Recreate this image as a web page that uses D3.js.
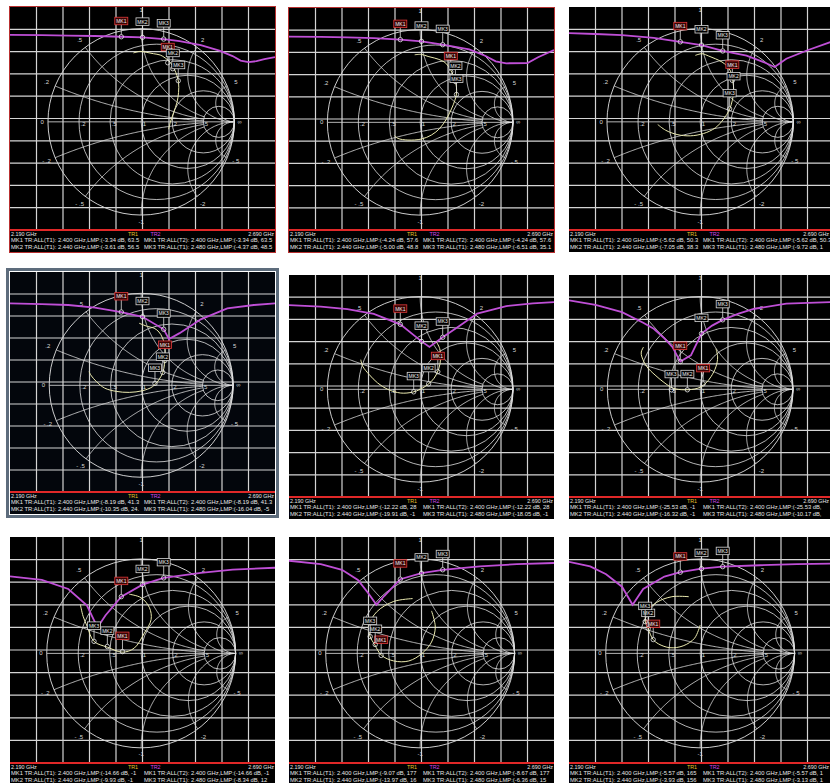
<!DOCTYPE html>
<meta charset="utf-8">
<script src="https://d3js.org/d3.v7.min.js"></script>
<style>
  body { margin: 0; background: #fff; }
  text { font-family: "Liberation Sans", Arial, sans-serif; }
</style>
<body>
<script>
// sweep, GHz
var F0 = 2.19, F1 = 2.69;
var mkFreq = [2.40, 2.44, 2.48];
var mkName = ["MK1", "MK2", "MK3"];
var startLabel = "2.190 GHz", stopLabel = "2.690 GHz";

// smith grid values
var rCircles = [0.2, 0.5, 1, 2, 5];
var rLabels = [".2", ".5", "1", "2", "5"];
var xArcs = [0.2, 0.5, 1, 2, 5];
var xLabelsPos = [".2", ".5", "1", "2", "5"];
var xLabelsNeg = ["- .2", "- .5", "-1", "-2", "- 5"];

// TR2 log mag traces [GHz, dB]
var mag1 = [[2.19,-2.5],[2.25,-2.6],[2.30,-2.8],[2.35,-3.0],[2.40,-3.34],[2.44,-3.61],[2.48,-4.37],[2.51,-5.3],[2.55,-7.1],[2.585,-9.6],[2.61,-12.0],[2.625,-14.0],[2.64,-14.7],[2.655,-14.3],[2.67,-13.4],[2.69,-12.5]];
var mag2 = [[2.19,-2.9],[2.25,-3.0],[2.30,-3.2],[2.35,-3.6],[2.40,-4.24],[2.44,-5.0],[2.48,-6.51],[2.53,-8.6],[2.56,-11.5],[2.58,-14.0],[2.60,-14.9],[2.64,-14.8],[2.66,-12.2],[2.69,-8.9]];
var mag3 = [[2.19,-1.7],[2.24,-2.1],[2.29,-2.6],[2.35,-3.8],[2.40,-5.62],[2.44,-7.05],[2.48,-9.72],[2.525,-11.8],[2.56,-15.0],[2.578,-16.9],[2.60,-13.2],[2.64,-9.4],[2.69,-5.2]];
var mag4 = [[2.19,-4.3],[2.25,-4.6],[2.30,-5.0],[2.35,-6.2],[2.40,-8.19],[2.44,-10.35],[2.48,-16.04],[2.49,-20.5],[2.51,-17.8],[2.55,-11.5],[2.60,-6.5],[2.65,-5.0],[2.69,-4.3]];
var mag5 = [[2.19,-3.6],[2.25,-4.2],[2.30,-5.4],[2.35,-7.5],[2.40,-12.22],[2.44,-19.9],[2.455,-22.4],[2.48,-18.05],[2.51,-13.2],[2.545,-7.4],[2.60,-4.0],[2.65,-2.8],[2.69,-2.2]];
var mag6 = [[2.19,-1.4],[2.24,-3.5],[2.29,-6.7],[2.33,-11.5],[2.35,-14.2],[2.37,-18.5],[2.385,-22.4],[2.40,-29.0],[2.42,-26.2],[2.44,-16.4],[2.46,-12.8],[2.48,-10.2],[2.51,-7.4],[2.54,-5.2],[2.60,-2.9],[2.69,-2.2]];
var mag7 = [[2.19,-7.4],[2.25,-9.0],[2.30,-13.0],[2.335,-20.2],[2.355,-30.0],[2.37,-24.7],[2.40,-16.4],[2.44,-11.1],[2.48,-8.1],[2.55,-5.9],[2.61,-4.4],[2.69,-3.6]];
var mag8 = [[2.19,-0.5],[2.25,-2.0],[2.29,-4.5],[2.32,-9.0],[2.34,-15.0],[2.355,-20.0],[2.37,-16.0],[2.40,-8.67],[2.44,-6.0],[2.48,-4.5],[2.55,-3.0],[2.62,-2.0],[2.69,-1.5]];
var mag9 = [[2.19,-1.0],[2.23,-3.0],[2.26,-6.5],[2.29,-12.0],[2.31,-20.0],[2.33,-13.0],[2.37,-7.5],[2.40,-5.57],[2.44,-4.0],[2.48,-3.13],[2.55,-2.5],[2.62,-2.0],[2.69,-1.8]];

// TR1 smith traces [re, im]
var smith1 = [[-0.083,0.739],[-0.011,0.756],[0.061,0.745],[0.133,0.731],[0.204,0.717],[0.258,0.685],[0.312,0.638],[0.355,0.566],[0.384,0.495],[0.401,0.423],[0.401,0.315],[0.384,0.208],[0.348,0.100],[0.312,-0.008],[0.294,-0.079]];
var smith2 = [[-0.059,0.728],[0.013,0.732],[0.085,0.710],[0.157,0.692],[0.229,0.667],[0.283,0.631],[0.330,0.560],[0.373,0.470],[0.391,0.380],[0.391,0.306],[0.373,0.234],[0.337,0.144],[0.283,0.036],[0.211,-0.065],[0.121,-0.137],[0.013,-0.180],[-0.132,-0.191],[-0.240,-0.173],[-0.276,-0.144]];
var smith3 = [[-0.052,0.713],[0.020,0.731],[0.091,0.706],[0.163,0.677],[0.234,0.642],[0.287,0.599],[0.330,0.535],[0.350,0.440],[0.360,0.330],[0.345,0.232],[0.316,0.135],[0.251,0.030],[0.163,-0.064],[0.037,-0.125],[-0.105,-0.150],[-0.248,-0.136],[-0.372,-0.089],[-0.455,-0.029]];
var smith4 = [[-0.022,0.675],[0.068,0.640],[0.140,0.622],[0.194,0.579],[0.229,0.522],[0.254,0.443],[0.262,0.335],[0.254,0.228],[0.235,0.140],[0.190,0.056],[0.122,-0.016],[0.014,-0.059],[-0.129,-0.077],[-0.272,-0.066],[-0.398,-0.030],[-0.487,0.041],[-0.541,0.102],[-0.567,0.148]];
var smith5 = [[0.17,0.52],[0.21,0.44],[0.22,0.33],[0.20,0.22],[0.15,0.12],[0.08,0.05],[0.00,0.00],[-0.08,-0.03],[-0.21,-0.04],[-0.35,0.00],[-0.46,0.07],[-0.55,0.16],[-0.62,0.25],[-0.64,0.32]];
var smith6 = [[0.170,0.438],[0.188,0.349],[0.170,0.243],[0.117,0.137],[0.053,0.059],[-0.025,0.012],[-0.167,-0.005],[-0.291,0.012],[-0.379,0.066],[-0.486,0.154],[-0.574,0.243],[-0.628,0.349],[-0.635,0.402],[-0.610,0.456]];
var smith7 = [[-0.126,0.626],[-0.002,0.590],[0.088,0.483],[0.105,0.358],[0.034,0.216],[-0.073,0.056],[-0.198,0.013],[-0.358,0.066],[-0.500,0.127],[-0.572,0.287],[-0.615,0.394],[-0.644,0.519]];
var smith8 = [[0.12,0.45],[0.16,0.28],[0.12,0.12],[0.02,0.00],[-0.12,-0.08],[-0.28,-0.08],[-0.41,-0.02],[-0.48,0.09],[-0.53,0.18],[-0.54,0.30],[-0.46,0.44],[-0.28,0.55],[-0.08,0.58]];
var smith9 = [[0.00,0.30],[-0.06,0.16],[-0.18,0.08],[-0.32,0.06],[-0.44,0.10],[-0.50,0.15],[-0.55,0.26],[-0.58,0.34],[-0.56,0.44],[-0.46,0.54],[-0.30,0.60],[-0.12,0.60]];

// TR1 marker positions on the smith trace [re, im] for MK1..MK3
var smk1 = [[0.285,0.634],[0.339,0.570],[0.398,0.441]];
var smk2 = [[0.330,0.545],[0.380,0.440],[0.391,0.300]];
var smk3 = [[0.345,0.445],[0.358,0.321],[0.316,0.139]];
var smk4 = [[0.258,0.270],[0.235,0.140],[0.150,0.020]];
var smk5 = [[0.190,0.190],[0.091,0.059],[-0.070,-0.027]];
var smk6 = [[0.032,0.059],[-0.138,-0.005],[-0.309,-0.005]];
var smk7 = [[-0.198,0.019],[-0.358,0.073],[-0.499,0.127]];
var smk8 = [[-0.413,-0.022],[-0.476,0.094],[-0.529,0.178]];
var smk9 = [[-0.497,0.146],[-0.550,0.262],[-0.582,0.336]];

// marker readouts
var read1 = ["MK1 TR:ALL(T1):  2.400 GHz,LMP:(-3.34 dB, 63.5", "MK1 TR:ALL(T2):  2.400 GHz,LMP:(-3.34 dB, 63.5",
             "MK2 TR:ALL(T1):  2.440 GHz,LMP:(-3.61 dB, 56.5", "MK3 TR:ALL(T1):  2.480 GHz,LMP:(-4.37 dB, 48.5"];
var read2 = ["MK1 TR:ALL(T1):  2.400 GHz,LMP:(-4.24 dB, 57.6", "MK1 TR:ALL(T2):  2.400 GHz,LMP:(-4.24 dB, 57.6",
             "MK2 TR:ALL(T1):  2.440 GHz,LMP:(-5.00 dB, 48.8", "MK3 TR:ALL(T1):  2.480 GHz,LMP:(-6.51 dB, 35.1"];
var read3 = ["MK1 TR:ALL(T1):  2.400 GHz,LMP:(-5.62 dB, 50.3", "MK1 TR:ALL(T2):  2.400 GHz,LMP:(-5.62 dB, 50.3",
             "MK2 TR:ALL(T1):  2.440 GHz,LMP:(-7.05 dB, 38.3", "MK3 TR:ALL(T1):  2.480 GHz,LMP:(-9.72 dB, 1"];
var read4 = ["MK1 TR:ALL(T1):  2.400 GHz,LMP:(-8.19 dB, 41.3", "MK1 TR:ALL(T2):  2.400 GHz,LMP:(-8.19 dB, 41.3",
             "MK2 TR:ALL(T1):  2.440 GHz,LMP:(-10.35 dB, 24.", "MK3 TR:ALL(T1):  2.480 GHz,LMP:(-16.04 dB, -5"];
var read5 = ["MK1 TR:ALL(T1):  2.400 GHz,LMP:(-12.22 dB, 28", "MK1 TR:ALL(T2):  2.400 GHz,LMP:(-12.22 dB, 28",
             "MK2 TR:ALL(T1):  2.440 GHz,LMP:(-19.91 dB, -1", "MK3 TR:ALL(T1):  2.480 GHz,LMP:(-18.05 dB, -1"];
var read6 = ["MK1 TR:ALL(T1):  2.400 GHz,LMP:(-25.53 dB, -1", "MK1 TR:ALL(T2):  2.400 GHz,LMP:(-25.53 dB,",
             "MK2 TR:ALL(T1):  2.440 GHz,LMP:(-16.32 dB, -1", "MK3 TR:ALL(T1):  2.480 GHz,LMP:(-10.17 dB,"];
var read7 = ["MK1 TR:ALL(T1):  2.400 GHz,LMP:(-14.66 dB, -1", "MK1 TR:ALL(T2):  2.400 GHz,LMP:(-14.66 dB, -1",
             "MK2 TR:ALL(T1):  2.440 GHz,LMP:(-9.93 dB, -1", "MK3 TR:ALL(T1):  2.480 GHz,LMP:(-8.34 dB, 12"];
var read8 = ["MK1 TR:ALL(T1):  2.400 GHz,LMP:(-9.07 dB, 177", "MK1 TR:ALL(T2):  2.400 GHz,LMP:(-8.67 dB, 177",
             "MK2 TR:ALL(T1):  2.440 GHz,LMP:(-13.97 dB, 16", "MK3 TR:ALL(T1):  2.480 GHz,LMP:(-6.36 dB, 15"];
var read9 = ["MK1 TR:ALL(T1):  2.400 GHz,LMP:(-5.57 dB, 165", "MK1 TR:ALL(T2):  2.400 GHz,LMP:(-5.57 dB, 1",
             "MK2 TR:ALL(T1):  2.440 GHz,LMP:(-3.93 dB, 156", "MK3 TR:ALL(T1):  2.480 GHz,LMP:(-3.13 dB, 1"];

var svg = d3.select("body").append("svg")
  .attr("width", 830).attr("height", 783);

// window frames: x, y = top left of black area, ph = plot height
var panels = [
  {x: 10,  y: 7,   ph: 223, bg: "#000",    frame: "#b83030", fw: 1, mag: mag1, smith: smith1, smk: smk1, read: read1},
  {x: 289, y: 8,   ph: 222, bg: "#000",    frame: "#b83030", fw: 1, mag: mag2, smith: smith2, smk: smk2, read: read2},
  {x: 569, y: 7,   ph: 223, bg: "#000",    frame: null,      fw: 0, mag: mag3, smith: smith3, smk: smk3, read: read3},
  {x: 10,  y: 272, ph: 220, bg: "#03060c", frame: "#5d6c7c", fw: 3, mag: mag4, smith: smith4, smk: smk4, read: read4},
  {x: 289, y: 275, ph: 222, bg: "#000",    frame: null,      fw: 0, mag: mag5, smith: smith5, smk: smk5, read: read5},
  {x: 569, y: 275, ph: 222, bg: "#000",    frame: null,      fw: 0, mag: mag6, smith: smith6, smk: smk6, read: read6},
  {x: 10,  y: 537, ph: 226, bg: "#000",    frame: null,      fw: 0, mag: mag7, smith: smith7, smk: smk7, read: read7},
  {x: 289, y: 537, ph: 226, bg: "#000",    frame: null,      fw: 0, mag: mag8, smith: smith8, smk: smk8, read: read8},
  {x: 569, y: 537, ph: 226, bg: "#000",    frame: null,      fw: 0, mag: mag9, smith: smith9, smk: smk9, read: read9}
];

var W = 265, TH = 22, COL2 = 134;
var gridCol = "#d4d4d4", smithCol = "#e2e2e2", tr1Col = "#ecebb0", tr2Col = "#bf4fd6";

function zToG(r, x) {
  var d = (r + 1) * (r + 1) + x * x;
  return [(r * r + x * x - 1) / d, (2 * x) / d];
}

function magAt(mag, f) {
  var i = d3.bisector(function(d) { return d[0]; }).right(mag, f);
  i = Math.max(1, Math.min(mag.length - 1, i));
  var a = mag[i - 1], b = mag[i];
  return a[1] + (b[1] - a[1]) * (f - a[0]) / (b[0] - a[0]);
}

function marker(g, px, py, name, active) {
  g.append("line").attr("x1", px).attr("y1", py - 2.2).attr("x2", px).attr("y2", py - 12)
    .style("stroke", "#ddd").style("stroke-width", 0.8);
  g.append("circle").attr("cx", px).attr("cy", py).attr("r", 2.2)
    .style("fill", "none").style("stroke", "#e8e8e8").style("stroke-width", 0.8);
  g.append("rect").attr("x", px - 6.5).attr("y", py - 19.5).attr("width", 13).attr("height", 7.5)
    .style("fill", active ? "#3a0404" : "#000")
    .style("stroke", active ? "#e03a3a" : "#d8d8d8").style("stroke-width", 0.8);
  g.append("text").attr("x", px).attr("y", py - 13.8).attr("text-anchor", "middle")
    .style("font-size", "5px").style("fill", "#f0f0f0").text(name);
}

panels.forEach(function(P, k) {
  var g = svg.append("g");
  var clipId = "clip" + k;
  svg.append("clipPath").attr("id", clipId).append("rect")
    .attr("x", P.x).attr("y", P.y).attr("width", W).attr("height", P.ph + TH);

  g.append("rect").attr("x", P.x).attr("y", P.y).attr("width", W).attr("height", P.ph + TH)
    .style("fill", P.bg);

  var c = g.append("g").attr("clip-path", "url(#" + clipId + ")");

  var fx = d3.scaleLinear().domain([F0, F1]).range([P.x, P.x + W]);
  var fy = d3.scaleLinear().domain([10, -90]).range([P.y, P.y + P.ph]);

  var cx = P.x + W * 0.495, cy = P.y + P.ph * 0.515, R = P.ph * 0.418;
  var gx = d3.scaleLinear().domain([-1, 1]).range([cx - R, cx + R]);
  var gy = d3.scaleLinear().domain([-1, 1]).range([cy + R, cy - R]);

  // smith grid
  c.append("circle").attr("cx", gx(0)).attr("cy", gy(0)).attr("r", R)
    .style("fill", "none").style("stroke", smithCol).style("stroke-width", 0.9);
  rCircles.forEach(function(r) {
    c.append("circle").attr("cx", gx(r / (r + 1))).attr("cy", gy(0)).attr("r", R / (r + 1))
      .style("fill", "none").style("stroke", smithCol).style("stroke-width", 0.8);
  });
  c.append("line").attr("x1", gx(-1)).attr("y1", gy(0)).attr("x2", gx(1)).attr("y2", gy(0))
    .style("stroke", smithCol).style("stroke-width", 0.8);
  var arcLine = d3.line().x(function(d) { return gx(d[0]); }).y(function(d) { return gy(d[1]); });
  xArcs.forEach(function(x) {
    var tMax = x <= 1 ? 5 / 6 : 0.995;
    [1, -1].forEach(function(s) {
      var pts = d3.range(0, 121).map(function(i) {
        var t = tMax * i / 120;
        return zToG(t / (1 - t), s * x);
      });
      c.append("path").attr("d", arcLine(pts))
        .style("fill", "none").style("stroke", smithCol).style("stroke-width", 0.8);
    });
  });

  // rectangular grid of the log mag trace
  d3.range(1, 10).forEach(function(i) {
    var f = F0 + (F1 - F0) * i / 10;
    c.append("line").attr("x1", fx(f)).attr("x2", fx(f)).attr("y1", P.y).attr("y2", P.y + P.ph)
      .style("stroke", gridCol).style("stroke-width", 1.2);
    var db = 10 - 10 * i;
    c.append("line").attr("x1", P.x).attr("x2", P.x + W).attr("y1", fy(db)).attr("y2", fy(db))
      .style("stroke", gridCol).style("stroke-width", 1.2);
  });

  // smith labels
  var lab = c.append("g").style("font-size", "6px").style("fill", "#d8d8d8");
  lab.append("text").attr("x", gx(-1) - 4).attr("y", gy(0) + 2).attr("text-anchor", "end").text("0");
  lab.append("text").attr("x", gx(1) + 3).attr("y", gy(0) + 2).text("\u221e");
  rCircles.forEach(function(r, i) {
    lab.append("text").attr("x", gx((r - 1) / (r + 1)) + 1.5).attr("y", gy(0) + 4).text(rLabels[i]);
  });
  xArcs.forEach(function(x, i) {
    var p = zToG(0, x);
    var mUp = x === 1 ? 1.2 : 1.1, mDn = x === 1 ? 1.07 : 1.1;
    lab.append("text").attr("x", gx(p[0] * mUp)).attr("y", gy(p[1] * mUp) + 2)
      .attr("text-anchor", "middle").text(xLabelsPos[i]);
    lab.append("text").attr("x", gx(p[0] * mDn)).attr("y", gy(-p[1] * mDn) + 2)
      .attr("text-anchor", "middle").text(xLabelsNeg[i]);
  });

  // TR2 log mag
  c.append("path").datum(P.mag)
    .attr("d", d3.line().x(function(d) { return fx(d[0]); }).y(function(d) { return fy(d[1]); }))
    .style("fill", "none").style("stroke", tr2Col).style("stroke-width", 1.8);

  // TR1 smith
  c.append("path").datum(P.smith)
    .attr("d", d3.line().curve(d3.curveCatmullRom).x(function(d) { return gx(d[0]); }).y(function(d) { return gy(d[1]); }))
    .style("fill", "none").style("stroke", tr1Col).style("stroke-width", 1);

  // markers
  mkFreq.forEach(function(f, i) {
    marker(c, fx(f), fy(magAt(P.mag, f)), mkName[i], i === 0);
  });
  P.smk.forEach(function(p, i) {
    marker(c, gx(p[0]), gy(p[1]), mkName[i], i === 0);
  });

  // bottom bar and readout
  var yb = P.y + P.ph;
  c.append("line").attr("x1", P.x).attr("x2", P.x + W).attr("y1", yb).attr("y2", yb)
    .style("stroke", "#e02828").style("stroke-width", 1.8);
  var t = c.append("g").style("font-size", "5.4px").style("fill", "#e6e6e6");
  t.append("text").attr("x", P.x + 1).attr("y", yb + 5.5).text(startLabel);
  t.append("text").attr("x", Math.min(P.x + W - 1, 829)).attr("y", yb + 5.5).attr("text-anchor", "end").text(stopLabel);
  t.append("text").attr("x", P.x + W * 0.445).attr("y", yb + 5.5).style("fill", "#e6c22a").text("TR1");
  t.append("text").attr("x", P.x + W * 0.53).attr("y", yb + 5.5).style("fill", "#d048e8").text("TR2");
  var rows = c.append("g").style("font-size", "5.8px").style("fill", "#e6e6e6");
  rows.append("text").attr("x", P.x + 1).attr("y", yb + 12).text(P.read[0]);
  rows.append("text").attr("x", P.x + COL2).attr("y", yb + 12).text(P.read[1]);
  rows.append("text").attr("x", P.x + 1).attr("y", yb + 18.8).text(P.read[2]);
  rows.append("text").attr("x", P.x + COL2).attr("y", yb + 18.8).text(P.read[3]);

  if (P.frame) {
    var o = P.fw > 1 ? P.fw / 2 + 1 : P.fw / 2;
    g.append("rect").attr("x", P.x - o).attr("y", P.y - o)
      .attr("width", W + 2 * o).attr("height", P.ph + TH + 2 * o)
      .style("fill", "none").style("stroke", P.frame).style("stroke-width", P.fw);
  }
});
</script>
</body>
